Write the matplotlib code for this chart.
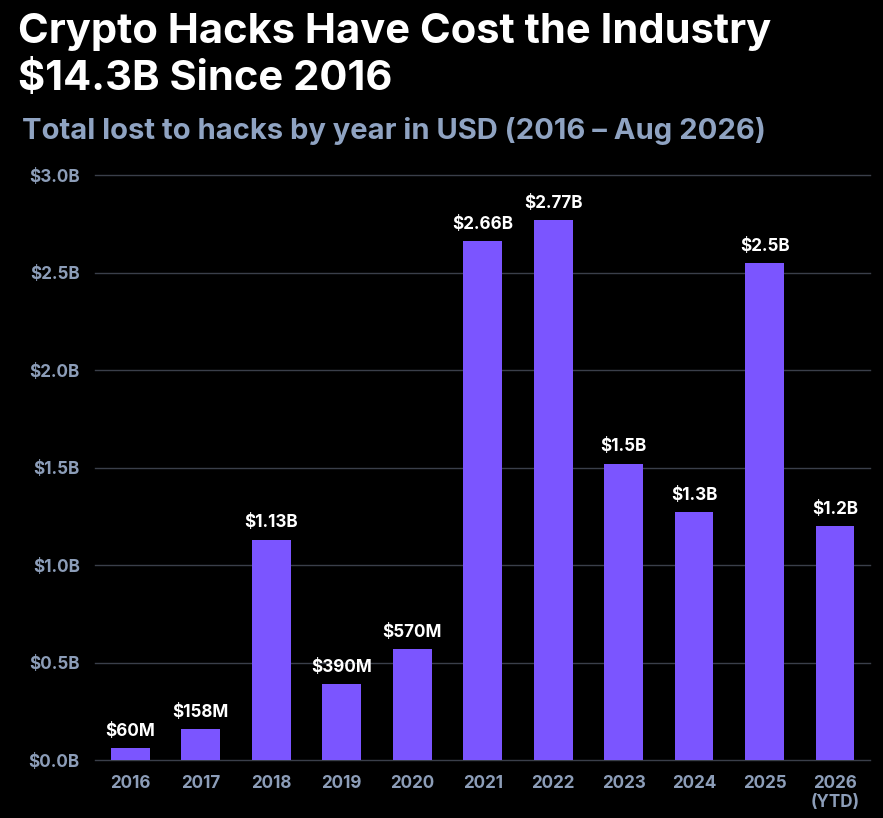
import matplotlib
matplotlib.use("Agg")
import matplotlib.pyplot as plt

years = ["2016", "2017", "2018", "2019", "2020", "2021", "2022", "2023", "2024", "2025", "2026\n(YTD)"]
lost_b = [0.06, 0.158, 1.13, 0.39, 0.57, 2.66, 2.77, 1.52, 1.27, 2.55, 1.20]
bar_labels = ["$60M", "$158M", "$1.13B", "$390M", "$570M", "$2.66B", "$2.77B", "$1.5B", "$1.3B", "$2.5B", "$1.2B"]
y_ticks = [0.0, 0.5, 1.0, 1.5, 2.0, 2.5, 3.0]

plt.rcParams['font.family'] = ['Inter', 'DejaVu Sans']

BG = "#000000"
BAR = "#7B55FF"
AXIS_TXT = "#8C9DB8"
GRID = "#3A3F4A"

fig = plt.figure(figsize=(8.83, 8.18), dpi=100, facecolor=BG)
ax = fig.add_axes([0.1076, 0.0709, 0.878, 0.715], facecolor=BG)

x = range(len(years))
ax.bar(x, lost_b, width=0.55, color=BAR, zorder=3)
for i, (v, lab) in enumerate(zip(lost_b, bar_labels)):
    ax.annotate(lab, (i, v), xytext=(0, 6), textcoords="offset points",
                ha="center", va="bottom", color="white", fontsize=12.3, fontweight="bold")

ax.set_xlim(-0.5, len(years) - 0.5)
ax.set_ylim(0, 3.0)
ax.set_yticks(y_ticks)
ax.set_yticklabels(["${:.1f}B".format(t) for t in y_ticks])
ax.set_xticks(list(x))
ax.set_xticklabels(years)
ax.tick_params(axis="both", length=0, colors=AXIS_TXT, labelsize=12.3)
ax.tick_params(axis="y", pad=11)
ax.tick_params(axis="x", pad=11)
for lab in ax.get_xticklabels() + ax.get_yticklabels():
    lab.set_fontweight("bold")
    lab.set_linespacing(1.1)
ax.grid(axis="y", color=GRID, linewidth=1, zorder=0, clip_on=False)
for s in ax.spines.values():
    s.set_visible(False)

fig.text(0.02, 0.984, "Crypto Hacks Have Cost the Industry\n$14.3B Since 2016",
         ha="left", va="top", color="white", fontsize=30, fontweight="bold", linespacing=1.3)
fig.text(0.025, 0.84, "Total lost to hacks by year in USD (2016 \u2013 Aug 2026)",
         ha="left", va="center", color="#8FA3C2", fontsize=21, fontweight="bold")

plt.savefig("out.png", dpi=100, facecolor=BG)
